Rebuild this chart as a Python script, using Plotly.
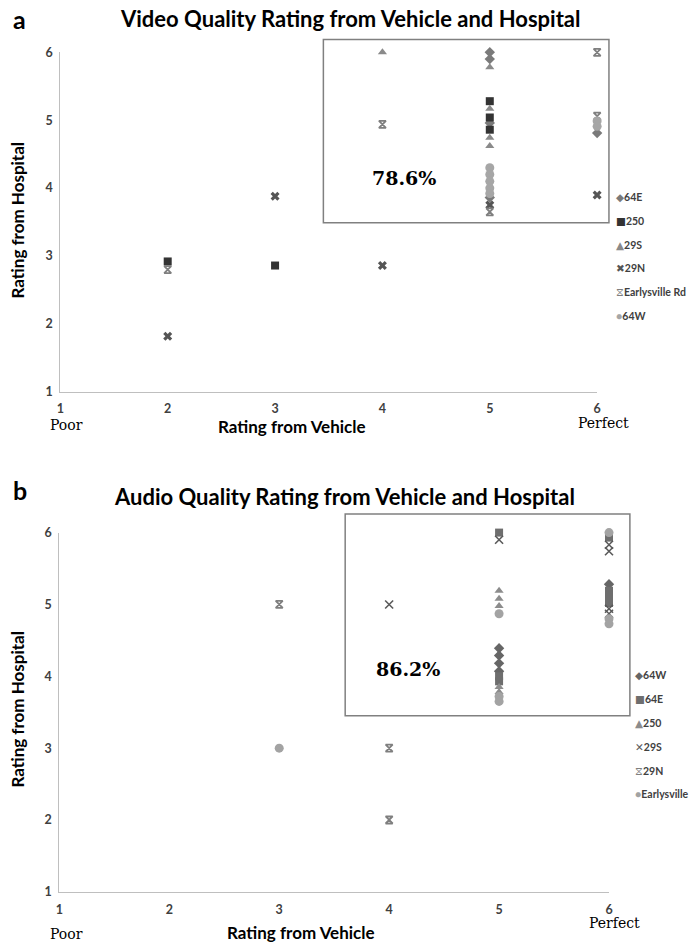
import plotly.graph_objects as go

W, H = 700, 951

# ---------------- Data: panel a (Video) ----------------
video_series = ["64E", "250", "29S", "29N", "Earlysville Rd", "64W"]
va_64e_x = [5, 5, 5, 5, 6]
va_64e_y = [6.0, 5.9, 4.96, 3.86, 4.81]
va_250_x = [2, 3, 5, 5, 5]
va_250_y = [2.92, 2.86, 5.28, 5.04, 4.86]
va_29s_x = [4, 5, 5, 5, 5]
va_29s_y = [6.0, 5.78, 5.17, 4.74, 4.62]
va_29n_x = [2, 3, 4, 5, 6]
va_29n_y = [1.82, 3.88, 2.86, 3.75, 3.9]
va_ely_x = [2, 4, 5, 6, 6]
va_ely_y = [2.8, 4.94, 3.65, 6.0, 5.06]
va_64w_x = [5, 5, 5, 5, 5, 6, 6]
va_64w_y = [4.3, 4.2, 4.1, 4.0, 3.92, 4.99, 4.91]

# ---------------- Data: panel b (Audio) ----------------
audio_series = ["64W", "64E", "250", "29S", "29N", "Earlysville"]
ab_64w_x = [5, 5, 5, 5, 6]
ab_64w_y = [4.39, 4.29, 4.18, 4.07, 5.28]
ab_64e_x = [5, 5, 5, 6, 6, 6, 6]
ab_64e_y = [6.0, 4.0, 3.93, 5.93, 5.19, 5.1, 5.02]
ab_250_x = [5, 5, 5, 5, 5]
ab_250_y = [5.19, 5.08, 4.98, 3.85, 3.78]
ab_29s_x = [4, 5, 6, 6, 6, 6]
ab_29s_y = [5.0, 5.9, 5.83, 5.74, 4.94, 4.87]
ab_29n_x = [3, 4, 4]
ab_29n_y = [5.0, 3.0, 2.0]
ab_ely_x = [3, 5, 5, 5, 6, 6, 6]
ab_ely_y = [3.0, 4.87, 3.72, 3.65, 6.0, 4.8, 4.73]

tick_vals = [1, 2, 3, 4, 5, 6]
pct_a, pct_b = "78.6%", "86.2%"

# ---------------- Layout geometry (pixels) ----------------
A_X = (57, 600)   # x=1 .. x=6
A_Y = (390, 45)   # y=1 .. y=6
B_X = (56, 612)
B_Y = (898, 533)

def dom_x(p):
    return [p[0] / W, p[1] / W]

def dom_y(p):
    return [1 - p[0] / H, 1 - p[1] / H]

def to_paper(panel, x, y):
    px, py = (A_X, A_Y) if panel == "a" else (B_X, B_Y)
    fx = (px[0] + (x - 1) / 5 * (px[1] - px[0])) / W
    fy = 1 - (py[0] + (y - 1) / 5 * (py[1] - py[0])) / H
    return fx, fy

fig = go.Figure()

def add(name, xs, ys, symbol, color, size, xa, ya, line=None):
    mk = dict(symbol=symbol, color=color, size=size)
    if line:
        mk["line"] = dict(color=color, width=line)
    else:
        mk["line"] = dict(width=0)
    fig.add_trace(go.Scatter(x=xs, y=ys, mode="markers", name=name, marker=mk,
                             xaxis=xa, yaxis=ya, cliponaxis=False, showlegend=False))

# panel a traces
ca = ["#7a7a7a", "#333333", "#8a8a8a", "#555555", "#7f7f7f", "#a6a6a6"]
add("64E", va_64e_x, va_64e_y, "diamond", ca[0], 8, "x", "y")
add("250", va_250_x, va_250_y, "square", ca[1], 8, "x", "y")
add("29S", va_29s_x, va_29s_y, "triangle-up", ca[2], 8, "x", "y")
add("29N", va_29n_x, va_29n_y, "x", ca[3], 8, "x", "y")
add("Earlysville Rd", va_ely_x, va_ely_y, "hourglass-open", ca[4], 7, "x", "y", line=1.8)
add("64W", va_64w_x, va_64w_y, "circle", ca[5], 9, "x", "y")

# panel b traces
cb = ["#666666", "#6e6e6e", "#8c8c8c", "#5a5a5a", "#7f7f7f", "#a3a3a3"]
add("64W", ab_64w_x, ab_64w_y, "diamond", cb[0], 8, "x2", "y2")
add("64E", ab_64e_x, ab_64e_y, "square", cb[1], 8, "x2", "y2")
add("250", ab_250_x, ab_250_y, "triangle-up", cb[2], 8, "x2", "y2")
add("29S", ab_29s_x, ab_29s_y, "x-thin-open", cb[3], 8, "x2", "y2", line=1.6)
add("29N", ab_29n_x, ab_29n_y, "hourglass-open", cb[4], 7, "x2", "y2", line=1.8)
add("Earlysville", ab_ely_x, ab_ely_y, "circle", cb[5], 9, "x2", "y2")

SANS = "Lato, 'Open Sans', 'DejaVu Sans', sans-serif"
SERIF = "'DejaVu Serif', 'Liberation Serif', serif"
tick_font = dict(family=SANS, size=12.5, color="#404040", weight="bold")

def axis(dom, anchor, standoff):
    return dict(domain=dom, range=[1, 6], tickvals=tick_vals, showgrid=False,
                zeroline=False, showline=True, linecolor="#bfbfbf", linewidth=1,
                ticks="", tickfont=tick_font, anchor=anchor, fixedrange=True,
                ticklabelstandoff=standoff)

fig.update_layout(
    width=W, height=H, autosize=False,
    margin=dict(l=0, r=0, t=0, b=0),
    paper_bgcolor="white", plot_bgcolor="white",
    showlegend=False,
    xaxis=axis(dom_x(A_X), "y", 5),
    yaxis=axis(dom_y(A_Y), "x", 4),
    xaxis2=axis(dom_x(B_X), "y2", 6),
    yaxis2=axis(dom_y(B_Y), "x2", 4),
)

ann = []
def text(x, y, s, size, family=SANS, color="#000000", bold=True, xanchor="center",
         yanchor="middle", angle=0):
    ann.append(dict(x=x / W, y=1 - y / H, xref="paper", yref="paper", text=(f"<b>{s}</b>" if bold else s),
                    showarrow=False, xanchor=xanchor, yanchor=yanchor, textangle=angle,
                    font=dict(family=family, size=size, color=color)))

# panel letters and titles
text(7, 11, "a", 25, xanchor="left")
text(7, 490, "b", 25, xanchor="left")
text(350, 11, "Video Quality Rating from Vehicle and Hospital", 22)
text(344, 496, "Audio Quality Rating from Vehicle and Hospital", 22)

# axis titles
text(291, 425, "Rating from Vehicle", 17)
text(14, 215, "Rating from Hospital", 17, angle=-90)
text(300, 939, "Rating from Vehicle", 17)
text(14, 712, "Rating from Hospital", 17, angle=-90)

# Poor / Perfect
text(63, 424, "Poor", 14, family=SERIF, bold=False)
text(606, 422, "Perfect", 14, family=SERIF, bold=False)
text(63, 941, "Poor", 14, family=SERIF, bold=False)
text(618, 930, "Perfect", 14, family=SERIF, bold=False)

# percent labels
text(405, 173, pct_a, 19, family=SERIF)
text(409, 672, pct_b, 19, family=SERIF)

# manual legends
glyph_a = ["◆", "■", "▲", "✖", "⧖", "●"]
for i, (nm, g, c) in enumerate(zip(video_series, glyph_a, ca)):
    ann.append(dict(x=617 / W, y=1 - (192 + i * 24.2) / H, xref="paper", yref="paper",
                    text=f"<span style='color:{c}'>{g}</span><b>{nm}</b>", showarrow=False,
                    xanchor="left", yanchor="middle",
                    font=dict(family=SANS, size=10.5, color="#404040")))
glyph_b = ["◆", "■", "▲", "✕", "⧖", "●"]
for i, (nm, g, c) in enumerate(zip(audio_series, glyph_b, cb)):
    ann.append(dict(x=636 / W, y=1 - (678 + i * 24.2) / H, xref="paper", yref="paper",
                    text=f"<span style='color:{c}'>{g}</span><b>{nm}</b>", showarrow=False,
                    xanchor="left", yanchor="middle",
                    font=dict(family=SANS, size=10.5, color="#404040")))

fig.update_layout(annotations=ann)

# highlight boxes (data units converted to paper)
box_a = (3.45, 3.49, 6.11, 6.19)
box_b = (3.60, 3.45, 6.19, 6.26)
for panel, (x0, y0, x1, y1) in (("a", box_a), ("b", box_b)):
    px0, py0 = to_paper(panel, x0, y0)
    px1, py1 = to_paper(panel, x1, y1)
    fig.add_shape(type="rect", xref="paper", yref="paper", x0=px0, y0=py0, x1=px1, y1=py1,
                  line=dict(color="#808080", width=1.5), fillcolor="rgba(0,0,0,0)", layer="below")

fig.write_html("out.html", config={"displayModeBar": False},
               post_script="document.body.style.margin='0';")
